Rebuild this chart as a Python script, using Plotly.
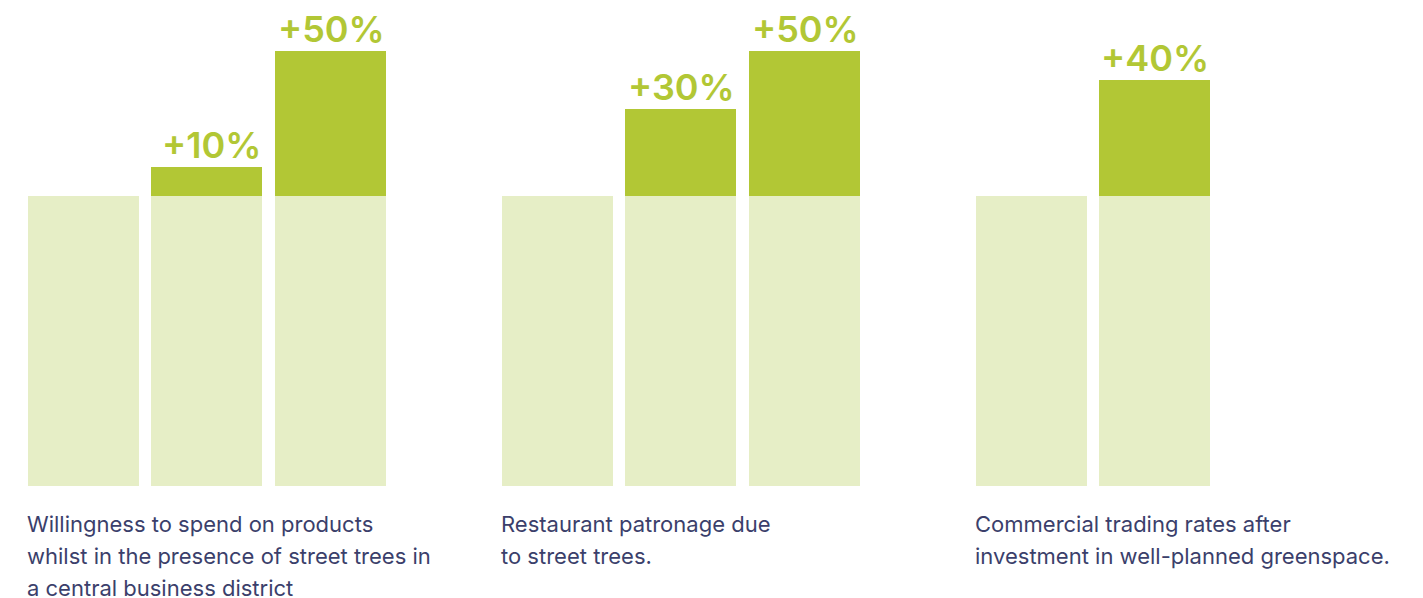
import plotly.graph_objects as go

# Data: three comparisons, each with a baseline bar (100) and uplift bars
groups = ["spend", "restaurant", "trading"]
baseline = [100, 100, 100, 100, 100, 100, 100, 100]
uplift = [0, 10, 50, 0, 30, 50, 0, 40]
uplift_labels = ["", "+10%", "+50%", "", "+30%", "+50%", "", "+40%"]
bar_group = [0, 0, 0, 1, 1, 1, 2, 2]
bar_slot = [0, 1, 2, 0, 1, 2, 0, 1]
captions = [
    ["Willingness to spend on products",
     "whilst in the presence of street trees in",
     "a central business district"],
    ["Restaurant patronage due", "to street trees."],
    ["Commercial trading rates after",
     "investment in well-planned greenspace."],
]

# Layout geometry (pixel-based axis units)
W, H = 1423, 598
FIRST_LEFT = 28
BAR_W = 111
SLOT_STEP = 123.4
GROUP_STEP = 474
BASE_PX = 486          # pixel row of the zero line (from top)
PX_PER_UNIT = 2.9      # 100 units span 290 px

LIGHT = "#e6eec6"
GREEN = "#b2c735"
NAVY = "#3b3f6b"

x_centers = [FIRST_LEFT + BAR_W / 2 + g * GROUP_STEP + s * SLOT_STEP
             for g, s in zip(bar_group, bar_slot)]

y_min = -(H - BASE_PX) / PX_PER_UNIT
y_max = BASE_PX / PX_PER_UNIT


def px_to_y(py):
    return (BASE_PX - py) / PX_PER_UNIT


fig = go.Figure()
fig.add_trace(go.Bar(x=x_centers, y=baseline, width=BAR_W,
                     marker=dict(color=LIGHT, line=dict(width=0)),
                     hoverinfo="skip"))
fig.add_trace(go.Bar(x=x_centers, y=uplift, width=BAR_W,
                     marker=dict(color=GREEN, line=dict(width=0)),
                     hoverinfo="skip"))

annotations = []
for xc, base, up, lab in zip(x_centers, baseline, uplift, uplift_labels):
    if not lab:
        continue
    annotations.append(dict(
        x=xc + BAR_W / 2 + 1, y=base + up, xref="x", yref="y",
        text=lab, showarrow=False,
        xanchor="right", yanchor="bottom", yshift=-2,
        font=dict(family="Inter", size=36, weight=600, color=GREEN),
    ))

for g, lines in enumerate(captions):
    for i, line in enumerate(lines):
        annotations.append(dict(
            x=FIRST_LEFT + g * GROUP_STEP - 3, y=px_to_y(524 + 32 * i),
            xref="x", yref="y", text=line, showarrow=False,
            xanchor="left", yanchor="middle",
            font=dict(family="Inter", size=22, color=NAVY),
        ))

fig.update_layout(
    width=W, height=H,
    margin=dict(l=0, r=0, t=0, b=0),
    paper_bgcolor="white", plot_bgcolor="white",
    barmode="stack", bargap=0, showlegend=False,
    xaxis=dict(range=[0, W], visible=False, fixedrange=True),
    yaxis=dict(range=[y_min, y_max], visible=False, fixedrange=True),
    annotations=annotations,
)

fig.write_html("out.html")
